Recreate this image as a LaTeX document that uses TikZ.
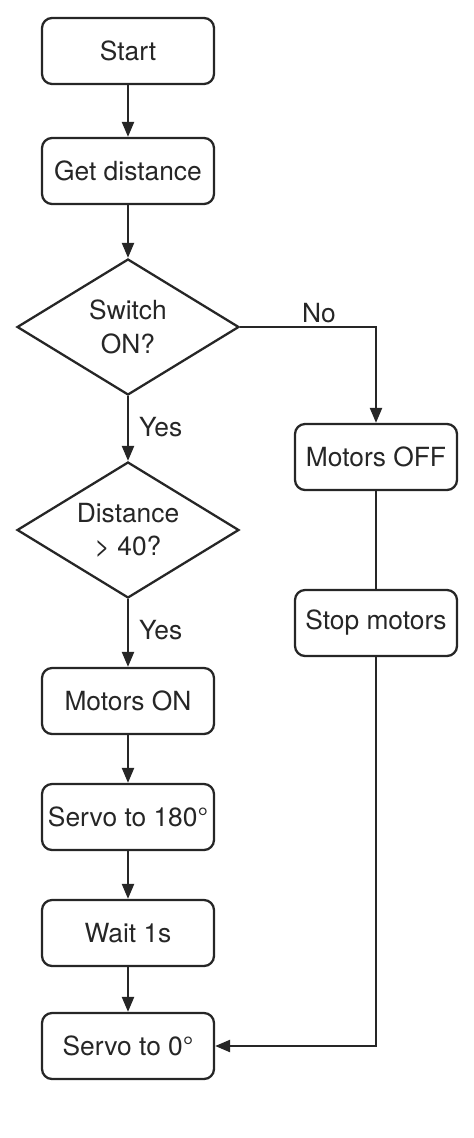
\documentclass[tikz,border=0pt]{standalone}
\usepackage{fontspec}
\setmainfont{TeX Gyre Heros}
\usetikzlibrary{shapes.geometric,arrows.meta}

\tikzset{
  stepbox/.style={draw, rounded corners=0.2cm, minimum width=3.44cm,
    minimum height=1.32cm, inner sep=0},
  test/.style={draw, diamond, aspect=1.63, minimum width=4.44cm,
    minimum height=2.72cm, inner sep=0, align=center},
  flow/.style={-{Triangle[length=0.3cm,width=0.24cm]}}
}

\begin{document}
\begin{tikzpicture}[x=0.02cm, y=-0.02cm, line width=1.3pt, black!85,
    font=\fontsize{15}{19}\selectfont]
  \useasboundingbox (0,0) rectangle (473,1138);
  % main column
  \node[stepbox] (start) at (128,51) {Start};
  \node[stepbox] (dist) at (128,171) {Get distance};
  \node[test] (switch) at (128,327) {Switch\\ON?};
  \node[test] (far) at (128,530) {Distance\\\textgreater{} 40?};
  \node[stepbox] (on) at (128,701) {Motors ON};
  \node[stepbox] (srv180) at (128,817) {Servo to 180°};
  \node[stepbox] (wait) at (128,933) {Wait 1s};
  \node[stepbox] (srv0) at (128,1046) {Servo to 0°};
  % right column
  \node[stepbox, minimum width=3.24cm] (off) at (376,457) {Motors OFF};
  \node[stepbox, minimum width=3.24cm] (stop) at (376,623) {Stop motors};
  % labels
  \node[anchor=west, inner sep=0] (yes1) at (138,427) {Yes};
  \node[anchor=west, inner sep=0] (yes2) at (138,630) {Yes};
  \node[anchor=west, inner sep=0] (no) at (301,313) {No};

  \draw[flow] (start) -- (dist);
  \draw[flow] (dist) -- (switch);
  \draw[flow] (switch) -- (far);
  \draw[flow] (far) -- (on);
  \draw[flow] (on) -- (srv180);
  \draw[flow] (srv180) -- (wait);
  \draw[flow] (wait) -- (srv0);
  \draw[flow] (switch.east) -| (off.north);
  \draw (off) -- (stop);
  \draw[flow] (stop.south) |- (srv0.east);
\end{tikzpicture}
\end{document}
